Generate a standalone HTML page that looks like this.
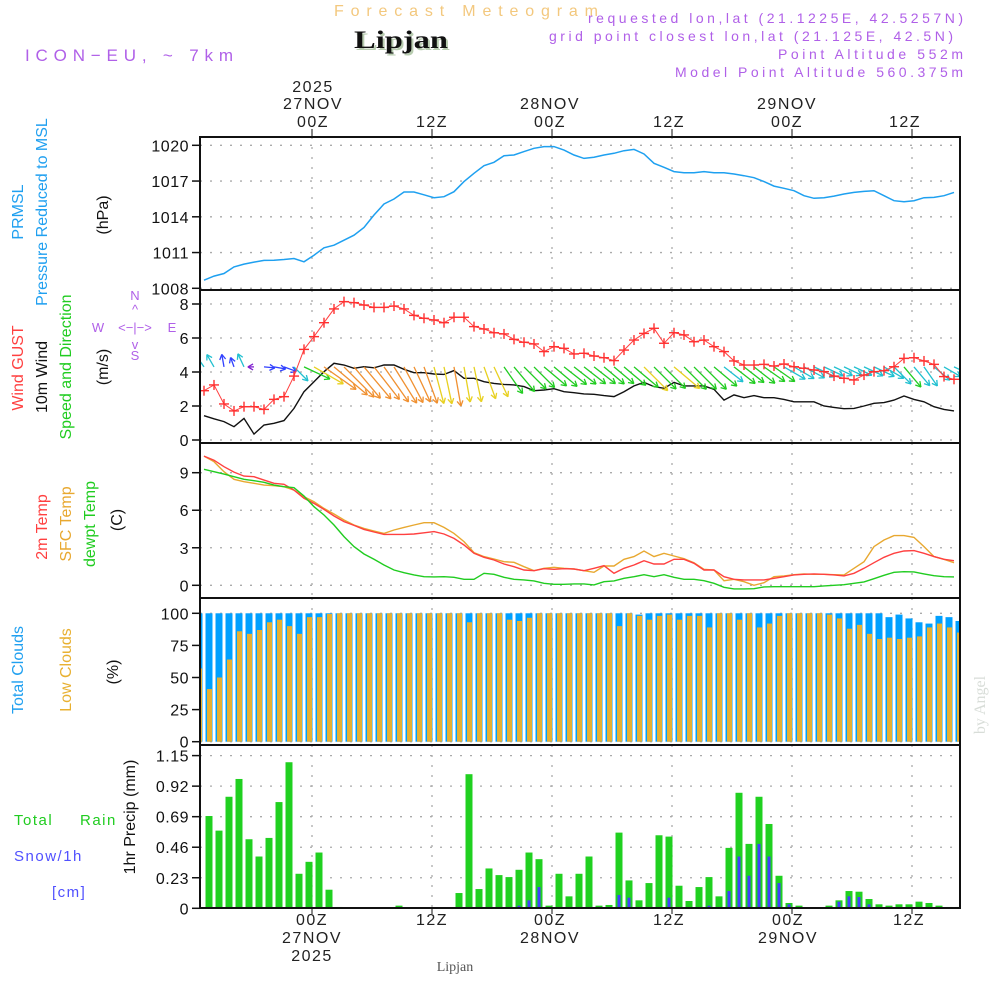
<!DOCTYPE html>
<html><head><meta charset="utf-8"><style>
html,body{margin:0;padding:0;background:#fff;}
svg{display:block;font-family:"Liberation Sans",sans-serif;}
</style></head><body>
<svg id="chart" width="1000" height="1000" viewBox="0 0 1000 1000" xmlns="http://www.w3.org/2000/svg">
<text x="334" y="16" font-size="16" fill="#f3c87e" textLength="264" lengthAdjust="spacing">Forecast Meteogram</text>
<text x="356" y="50" font-size="25" font-weight="bold" font-family="Liberation Serif,serif" fill="#b8ccb0" textLength="94" lengthAdjust="spacingAndGlyphs">Lipjan</text>
<text x="354" y="48" font-size="25" font-weight="bold" font-family="Liberation Serif,serif" fill="#111" textLength="94" lengthAdjust="spacingAndGlyphs">Lipjan</text>
<text x="25" y="61" font-size="17" fill="#b060e8" textLength="208" lengthAdjust="spacing">ICON−EU, ~ 7km</text>
<g font-size="14" fill="#b060e8" lengthAdjust="spacing">
<text x="588" y="23" textLength="375">requested lon,lat (21.1225E, 42.5257N)</text>
<text x="549" y="41" textLength="404">grid point closest lon,lat (21.125E, 42.5N)</text>
<text x="778" y="59" textLength="185">Point Altitude 552m</text>
<text x="675" y="77" textLength="288">Model Point Altitude 560.375m</text>
</g>
<g font-size="16" fill="#222" text-anchor="middle" letter-spacing="1.5">
<text x="313" y="92">2025</text><text x="313" y="109">27NOV</text><text x="313" y="127">00Z</text>
<text x="432" y="127">12Z</text>
<text x="550" y="109">28NOV</text><text x="550" y="127">00Z</text>
<text x="669" y="127">12Z</text>
<text x="787" y="109">29NOV</text><text x="787" y="127">00Z</text>
<text x="905" y="127">12Z</text>
</g>
<g font-size="16" fill="#222" text-anchor="middle" letter-spacing="1.5">
<text x="312" y="925">00Z</text><text x="312" y="943">27NOV</text><text x="312" y="961">2025</text>
<text x="432" y="925">12Z</text>
<text x="550" y="925">00Z</text><text x="550" y="943">28NOV</text>
<text x="669" y="925">12Z</text>
<text x="788" y="925">00Z</text><text x="788" y="943">29NOV</text>
<text x="909" y="925">12Z</text>
</g>
<text x="455" y="971" text-anchor="middle" font-size="14" font-family="Liberation Serif,serif" fill="#555">Lipjan</text>
<text transform="translate(985,705) rotate(-90)" text-anchor="middle" font-size="16" font-family="Liberation Serif,serif" fill="#d8ddd8">by Angel</text>
<g font-size="16" text-anchor="middle">
<text transform="translate(23,212) rotate(-90)" fill="#20a0f0">PRMSL</text>
<text transform="translate(47,212) rotate(-90)" fill="#20a0f0">Pressure Reduced to MSL</text>
<text transform="translate(108,215) rotate(-90)" fill="#111">(hPa)</text>
<text transform="translate(23,368) rotate(-90)" fill="#ff4040">Wind GUST</text>
<text transform="translate(47,377) rotate(-90)" fill="#111">10m Wind</text>
<text transform="translate(71,367) rotate(-90)" fill="#20cc20">Speed and Direction</text>
<text transform="translate(108,367) rotate(-90)" fill="#111">(m/s)</text>
<text transform="translate(47,527) rotate(-90)" fill="#ff4040">2m Temp</text>
<text transform="translate(71,524) rotate(-90)" fill="#e8a830">SFC Temp</text>
<text transform="translate(95,524) rotate(-90)" fill="#20cc20">dewpt Temp</text>
<text transform="translate(122,520) rotate(-90)" fill="#111">(C)</text>
<text transform="translate(23,670) rotate(-90)" fill="#20a0f0">Total Clouds</text>
<text transform="translate(71,670) rotate(-90)" fill="#e8b030">Low Clouds</text>
<text transform="translate(118,672) rotate(-90)" fill="#111">(%)</text>
<text transform="translate(135,817) rotate(-90)" fill="#111">1hr Precip (mm)</text>
</g>
<g font-size="15" letter-spacing="1.5">
<text x="14" y="825" fill="#20cc20">Total</text><text x="80" y="825" fill="#20cc20">Rain</text>
<text x="14" y="861" fill="#5050ff">Snow/1h</text>
<text x="52" y="897" fill="#5050ff">[cm]</text>
</g>
<g font-size="13" fill="#b060e8" text-anchor="middle">
<text x="135" y="300">N</text><text x="135" y="360">S</text><text x="98" y="332">W</text><text x="172" y="332">E</text>
<text x="135" y="314">^</text><text x="135" y="349">v</text>
<text x="135" y="332">&lt;−|−&gt;</text>
</g>
<g id="plots"></g>
</svg>
<script>
const pressure=[1008.68,1009.02,1009.24,1009.80,1010.03,1010.2,1010.34,1010.36,1010.42,1010.5,1010.22,1010.78,1011.4,1011.62,1012.04,1012.46,1013.1,1014.15,1015.07,1015.49,1016.08,1016.08,1015.85,1015.6,1015.69,1016.11,1016.95,1017.65,1018.29,1018.57,1019.13,1019.19,1019.47,1019.75,1019.89,1019.89,1019.6,1019.19,1018.9,1019.0,1019.19,1019.33,1019.55,1019.66,1019.27,1018.49,1018.15,1017.79,1017.70,1017.70,1017.79,1017.70,1017.70,1017.59,1017.45,1017.28,1016.95,1016.58,1016.39,1016.19,1015.77,1015.55,1015.6,1015.74,1015.91,1016.05,1016.13,1016.19,1015.77,1015.35,1015.27,1015.35,1015.6,1015.63,1015.77,1016.05];
const gust=[2.9,3.24,2.12,1.71,1.96,1.96,1.80,2.39,2.55,3.76,5.33,6.08,6.90,7.71,8.14,8.08,7.94,7.80,7.80,7.88,7.71,7.33,7.16,7.06,6.90,7.22,7.22,6.67,6.53,6.31,6.24,5.92,5.75,5.65,5.20,5.49,5.39,5.06,5.10,4.94,4.84,4.67,5.29,5.88,6.27,6.57,5.69,6.31,6.18,5.78,5.88,5.49,5.20,4.65,4.41,4.41,4.45,4.35,4.47,4.31,4.22,4.12,4.02,3.76,3.63,3.53,3.82,4.02,4.08,4.31,4.80,4.84,4.65,4.45,3.73,3.57];
const wind=[1.43,1.25,1.08,0.78,1.27,0.35,0.88,0.98,1.14,1.86,2.84,3.43,4.02,4.51,4.41,4.22,4.31,4.25,4.41,4.41,4.16,3.96,3.96,3.88,3.86,4.08,3.63,3.63,3.43,3.33,3.27,3.24,3.14,2.90,2.94,3.02,2.84,2.78,2.71,2.69,2.61,2.55,2.84,3.18,3.39,3.14,3.04,3.39,3.18,3.18,3.18,2.98,2.35,2.65,2.49,2.61,2.49,2.49,2.39,2.25,2.25,2.25,2.0,1.92,1.84,1.86,2.0,2.16,2.2,2.35,2.59,2.39,2.25,1.96,1.80,1.71];
const windDir=[-125,-120,-100,-110,-115,180,5,10,20,45,25,30,35,40,45,50,50,52,55,58,62,65,70,75,78,80,80,78,70,65,55,50,45,45,40,40,38,38,38,38,40,40,40,40,45,45,45,40,45,45,45,40,38,38,38,38,35,35,30,30,28,25,25,25,25,25,25,25,30,45,50,50,55,40,30,25];
const temp2m=[10.33,10.0,9.48,9.05,8.73,8.68,8.41,8.15,8.07,7.61,6.95,6.55,6.07,5.54,5.09,4.79,4.47,4.26,4.07,4.07,4.07,4.10,4.2,4.29,4.1,3.75,3.22,2.56,2.24,2.02,1.7,1.49,1.22,1.17,1.33,1.28,1.33,1.30,1.17,1.36,1.57,0.96,1.36,1.62,1.97,1.70,1.70,2.08,2.08,1.76,1.22,1.22,0.69,0.48,0.43,0.43,0.43,0.56,0.69,0.83,0.88,0.91,0.88,0.83,0.75,0.96,1.36,1.81,2.24,2.56,2.74,2.77,2.56,2.29,2.08,1.97];
const tempSfc=[10.33,9.88,9.08,8.47,8.28,8.15,8.01,7.96,7.88,7.61,7.08,6.68,6.15,5.70,5.22,4.82,4.55,4.34,4.15,4.42,4.63,4.82,5.0,5.0,4.63,4.15,3.49,2.61,2.29,2.10,1.89,1.84,1.49,1.17,1.36,1.44,1.36,1.30,1.17,1.04,1.54,1.54,2.08,2.29,2.74,2.29,2.56,2.34,2.13,1.81,1.28,1.22,0.37,0.48,0.29,0,0.21,0.69,0.75,0.85,0.91,0.88,0.88,0.85,0.83,1.36,1.89,3.09,3.62,3.97,3.97,3.83,3.09,2.29,2.08,1.81];
const dewpt=[9.27,9.08,8.89,8.68,8.47,8.36,8.23,8.01,7.88,7.80,7.14,6.28,5.62,4.82,3.89,3.09,2.50,2.08,1.62,1.22,1.01,0.83,0.69,0.67,0.69,0.64,0.48,0.48,0.96,0.88,0.64,0.48,0.43,0.35,0.16,0.08,0.08,0.11,0.11,0.03,0.29,0.35,0.56,0.69,0.85,0.69,0.85,0.64,0.48,0.48,0.37,0.16,-0.16,-0.29,-0.29,-0.27,-0.13,-0.11,-0.11,-0.11,-0.11,-0.11,-0.05,0,0.05,0.16,0.27,0.53,0.80,1.04,1.09,1.07,0.91,0.77,0.69,0.67];
const cloudTotal=[100,100,100,100,100,100,100,100,100,100,100,100,100,100,100,100,100,100,100,100,100,100,100,100,100,100,100,100,100,100,100,100,100,100,100,100,100,100,100,100,100,100,100,100,99,100,100,100,100,100,100,100,100,100,100,100,100,100,100,100,100,100,100,100,100,100,100,100,100,97,99,96,93,92,98,97,94];
const cloudLow=[57,41,50,64,86,84,87,93,95,90,84,97,97,99.5,100,100,100,100,100,100,100,100,100,100,100,100,100,93,100,100,100,95,94,96.5,100,100,100,100,100,100,100,100,90,100,98,95,98,99,95,98,98,89,100,100,95,100,89,92,98,100,100,100,100,99,96,88,91,84,80,81,80,81,82,89,92,89,85];
const rain=[0.695,0.585,0.84,0.974,0.52,0.39,0.53,0.80,1.10,0.26,0.35,0.42,0.14,0.01,0,0,0,0,0,0.02,0,0,0,0,0,0.115,1.01,0.145,0.30,0.25,0.235,0.29,0.42,0.37,0.02,0.26,0.09,0.26,0.39,0.02,0.025,0.57,0.21,0.06,0.19,0.55,0.54,0.17,0.055,0.16,0.235,0.09,0.455,0.87,0.485,0.84,0.635,0.245,0.04,0.02,0,0,0.02,0.06,0.13,0.125,0.07,0.03,0.02,0.03,0.03,0.05,0.04,0.02,0.01,0.01];
const snow=[0,0,0,0,0,0,0,0,0,0,0,0,0,0,0,0,0,0,0,0,0,0,0,0,0,0,0,0,0,0,0,0.02,0.06,0.16,0,0.005,0,0,0,0,0,0.10,0.08,0,0,0.005,0.08,0,0,0,0.02,0.01,0.13,0.39,0.245,0.485,0.39,0.19,0.03,0.005,0.005,0,0.01,0.05,0.09,0.085,0.03,0,0,0,0,0,0,0,0,0];
const pTicks=[1008,1011,1014,1017,1020];
const wTicks=[0,2,4,6,8];
const tTicks=[0,3,6,9];
const cTicks=[0,25,50,75,100];
const rTicks=[0,0.23,0.46,0.69,0.92,1.15];
const rTickLabels=["0","0.23","0.46","0.69","0.92","1.15"];

const NS="http://www.w3.org/2000/svg";
const root=document.getElementById('plots');
function mk(tag,attrs,parent){const e=document.createElementNS(NS,tag);for(const k in attrs)e.setAttribute(k,attrs[k]);(parent||root).appendChild(e);return e;}
const X0=200,X1=960;
const xPt=j=>204+10*j;
const xBar=i=>209+10*i;
const xCloud=m=>199+10*m;
const lin=(v0,y0,v1,y1)=>v=>y0+(v-v0)*(y1-y0)/(v1-v0);
const yP=lin(1008,288.3,1020,145.3);
const yW=lin(0,440,8,304);
const yT=lin(0,585.3,9,472.7);
const yC=lin(0,741.7,100,613.3);
const yR=lin(0,908.3,1.15,755.6);
const panels=[[137,290,'pressure-panel'],[290,443,'wind-panel'],[443,598,'temperature-panel'],[598,745,'cloud-panel'],[745,908,'precip-panel']];
const vlines=[312,432,552,672,792,912];

const defs=mk('defs',{});
panels.forEach((p,k)=>{const cp=mk('clipPath',{id:'cp'+k},defs);mk('rect',{x:X0,y:p[0],width:X1-X0,height:p[1]-p[0]},cp);});

function grid(ticks,yf,labels,k){
  const g=mk('g',{});
  
  
  ticks.forEach((t,i)=>{const y=yf(t);
    mk('line',{x1:X0,x2:X1,y1:y,y2:y,stroke:'#aaa','stroke-width':1.3,'stroke-dasharray':'2,8'},g);
    mk('line',{x1:192,x2:X0,y1:y,y2:y,stroke:'#111','stroke-width':1.5},g);
    const tx=mk('text',{x:189,y:y+6,'text-anchor':'end','font-size':16,fill:'#111','letter-spacing':0.5},g);
    tx.textContent=labels?labels[i]:String(t);
  });
  vlines.forEach(x=>mk('line',{x1:x,x2:x,y1:panels[k][0],y2:panels[k][1],stroke:'#aaa','stroke-width':1.3,'stroke-dasharray':'2,8'},g));
}
grid(pTicks,yP,null,0);grid(wTicks,yW,null,1);grid(tTicks,yT,null,2);grid(cTicks,yC,null,3);grid(rTicks,yR,rTickLabels,4);

function line(arr,yf,color,name,k,w){
  const d=arr.map((v,j)=>(j?'L':'M')+xPt(j)+','+yf(v).toFixed(1)).join('');
  const p=mk('path',{d:d,fill:'none',stroke:color,'stroke-width':w||1.4,'clip-path':'url(#cp'+k+')'});
  
  
}
const cg=mk('g',{'clip-path':'url(#cp3)'});


cloudTotal.forEach((v,m)=>{const r=mk('rect',{x:xCloud(m)-3.5,y:yC(v),width:7,height:yC(0)-yC(v),fill:'#00a0ff'},cg);
  
  });
cloudLow.forEach((v,m)=>{const r=mk('rect',{x:xCloud(m)-2,y:yC(v),width:5,height:yC(0)-yC(v),fill:'#e8b030'},cg);
  
  });
const rg=mk('g',{'clip-path':'url(#cp4)'});


rain.forEach((v,i)=>{if(v<=0)return;const r=mk('rect',{x:xBar(i)-3.5,y:yR(v),width:7,height:yR(0)-yR(v),fill:'#20d020'},rg);
  
  });
snow.forEach((v,i)=>{if(v<=0)return;const r=mk('rect',{x:xBar(i)-1.5,y:yR(v),width:3,height:Math.max(1,yR(0)-yR(v)),fill:'#4040ff'},rg);
  
  });
line(pressure,yP,'#1ea0f0','pressure-line',0,1.5);
line(tempSfc,yT,'#e8a830','sfc-temp-line',2);
line(temp2m,yT,'#ff4040','temp-2m-line',2);
line(dewpt,yT,'#20cc20','dewpoint-line',2);
line(wind,yW,'#111','wind-speed-line',1);
const ag=mk('g',{'clip-path':'url(#cp1)','stroke-width':1.3,fill:'none'});


function col(v){return v<1.2?'#3040ff':v<2.4?'#20c0d0':v<3.3?'#20cc20':v<3.9?'#e8d020':'#f09030';}
windDir.forEach((a,j)=>{
  const x=xPt(j),y=yW(4.3),L=3+9*wind[j],r=a*Math.PI/180;
  const x2=x+L*Math.cos(r),y2=y+L*Math.sin(r);
  const c=j===5?'#8020d0':col(wind[j]);
  const g=mk('g',{stroke:c},ag);
  
  
  mk('line',{x1:x,y1:y,x2:x2,y2:y2},g);
  [2.6,-2.6].forEach(o=>mk('line',{x1:x2,y1:y2,x2:x2-6*Math.cos(r+o*0.2),y2:y2-6*Math.sin(r+o*0.2)},g));
});
line(gust,yW,'#ff4040','gust-line',1,1);
const gg=mk('g',{stroke:'#ff3030','stroke-width':1.4,'clip-path':'url(#cp1)'});


gust.forEach((v,j)=>{const x=xPt(j),y=yW(v);
  mk('line',{x1:x-5,x2:x+5,y1:y,y2:y},gg);mk('line',{x1:x,x2:x,y1:y-5,y2:y+5},gg);});
panels.forEach((p,k)=>{const r=mk('rect',{x:X0,y:p[0],width:X1-X0,height:p[1]-p[0],fill:'none',stroke:'#111','stroke-width':2});
  
  });
vlines.forEach(x=>{mk('line',{x1:x,x2:x,y1:129,y2:137,stroke:'#111','stroke-width':1});mk('line',{x1:x,x2:x,y1:908,y2:914,stroke:'#111','stroke-width':1});});
</script>
</body></html>
